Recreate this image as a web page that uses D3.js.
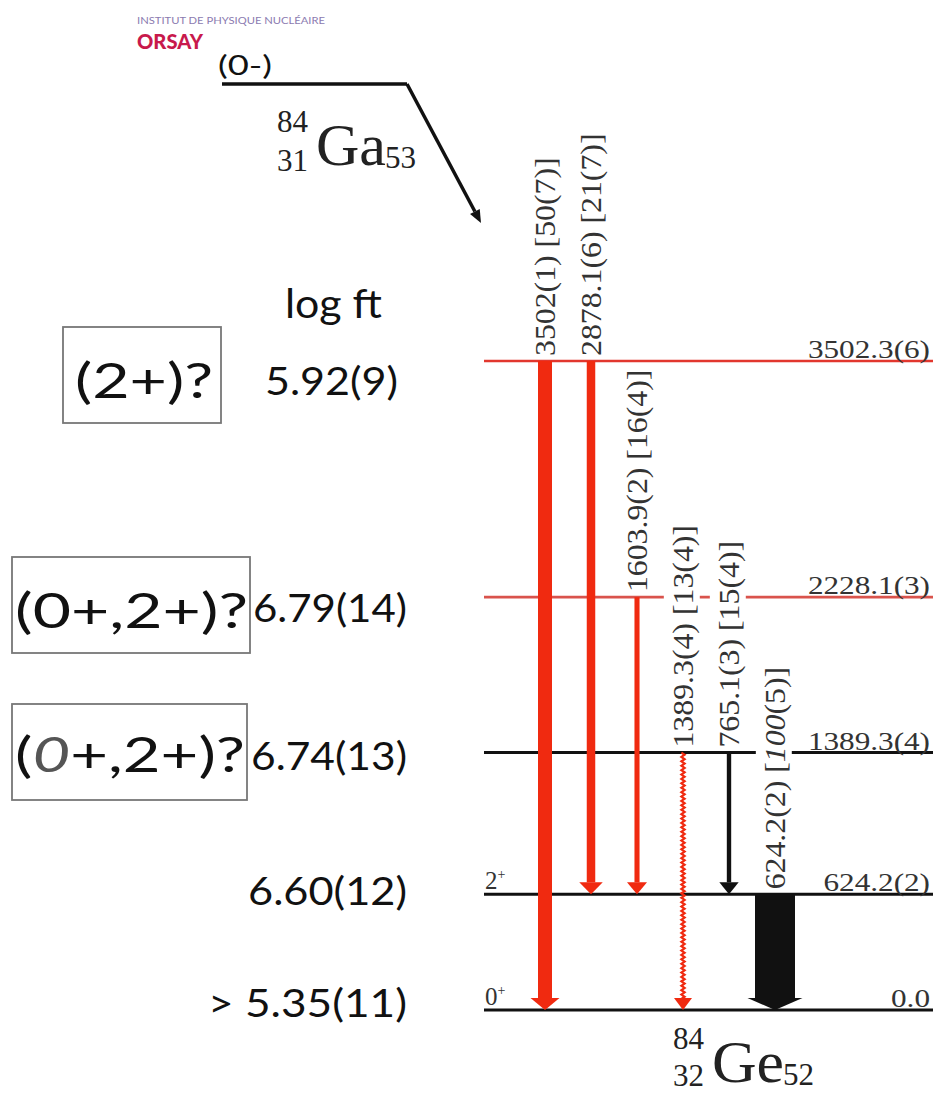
<!DOCTYPE html>
<html><head><meta charset="utf-8">
<script src="https://cdn.jsdelivr.net/npm/d3@7"></script>
<style>body{margin:0;background:#fff} svg{display:block}</style>
</head><body>
<svg id="c" width="937" height="1093"></svg>
<script>
// ---------- data ----------
const levelEnergies = [0, 624.2, 1389.3, 2228.1, 3502.3];
const levelLabels   = ["0.0", "624.2(2)", "1389.3(4)", "2228.1(3)", "3502.3(6)"];
const levelNew      = [false, false, false, true, true];
const spinEnergies  = [0, 624.2];
const spinValues    = ["0", "2"];
const gammaLabels   = ["3502(1)", "2878.1(6)", "1603.9(2)", "1389.3(4)", "765.1(3)", "624.2(2)"];
const gammaIntLabels= ["50(7)", "21(7)", "16(4)", "13(4)", "15(4)", "100(5)"];
const gammaIntensity= [50, 21, 16, 13, 15, 100];
const gammaFrom     = [3502.3, 3502.3, 2228.1, 1389.3, 1389.3, 624.2];
const gammaTo       = [0, 624.2, 624.2, 0, 624.2, 0];
const gammaNew      = [true, true, true, true, false, false];
const gammaTentative= [false, false, false, true, false, false];
const logftHeader   = "log ft";
const logftValues   = ["5.92(9)", "6.79(14)", "6.74(13)", "6.60(12)", "> 5.35(11)"];
const spinGuesses   = ["(2+)?", "(0+,2+)?", "(0+,2+)?"];
const parentSpin    = "(0-)";

// ---------- layout ----------
const svg = d3.select("#c");
const y = d3.scaleLinear().domain([0, 3502.3]).range([1010, 361]);
const xg = d3.scalePoint().domain(gammaLabels).range([545, 775]);
const wScale = d3.scaleLinear().domain([0, 13, 21, 50, 100]).range([0, 3, 8.5, 14, 40]);
const X0 = 484, X1 = 933;
const RED = "#f02a10", RED_L1 = "#e2372e", RED_L2 = "#d9534c";
const SERIF = "'Liberation Serif','Times New Roman',serif";
const SANS = "Lato, 'Open Sans', sans-serif";

// logo
svg.append("text").attr("x", 137).attr("y", 24).attr("font-family", SANS).attr("font-size", 10)
  .attr("fill", "#8b7bb0").attr("textLength", 188).attr("lengthAdjust", "spacingAndGlyphs")
  .text("INSTITUT DE PHYSIQUE NUCLÉAIRE");
svg.append("text").attr("x", 137).attr("y", 49).attr("font-family", SANS).attr("font-size", 21)
  .attr("font-weight", 900).attr("fill", "#c8194c").attr("textLength", 66).attr("lengthAdjust", "spacingAndGlyphs")
  .text("ORSAY");

// parent level
svg.append("line").attr("x1", 222).attr("x2", 407).attr("y1", 84).attr("y2", 84)
  .attr("stroke", "#111").attr("stroke-width", 3.5);
svg.append("text").attr("x", 218).attr("y", 75).attr("font-family", SANS).attr("font-size", 26)
  .attr("fill", "#111").attr("textLength", 54).attr("lengthAdjust", "spacingAndGlyphs").text(parentSpin);
// beta decay arrow
(function(){
  const x1 = 407, y1 = 84, x2 = 481, y2 = 223;
  const a = Math.atan2(y2 - y1, x2 - x1), hl = 13, hw = 5.5;
  const bx = x2 - hl * Math.cos(a), by = y2 - hl * Math.sin(a);
  svg.append("line").attr("x1", x1).attr("y1", y1).attr("x2", bx).attr("y2", by)
    .attr("stroke", "#111").attr("stroke-width", 3.5);
  svg.append("path").attr("fill", "#111").attr("d",
    `M${x2},${y2}L${bx - hw*Math.sin(a)},${by + hw*Math.cos(a)}L${bx + hw*Math.sin(a)},${by - hw*Math.cos(a)}Z`);
})();

// nuclide labels
function nuclide(x, base, A, Z, sym, N, sx, zOff) {
  const g = svg.append("g").attr("font-family", SERIF).attr("fill", "#222");
  g.append("text").attr("x", x).attr("y", base - 33).attr("font-size", 31).text(A);
  g.append("text").attr("x", x).attr("y", base + zOff).attr("font-size", 31).text(Z);
  g.append("text").attr("transform", `translate(${x + 39},${base}) scale(${sx},1)`).attr("font-size", 60).text(sym);
  g.append("text").attr("x", x + 39 + 69 * sx).attr("y", base + 3).attr("font-size", 31).text(N);
}
nuclide(277, 165, "84", "31", "Ga", "53", 1, 6);
nuclide(673, 1082, "84", "32", "Ge", "52", 1.03, 4);

// level lines
svg.selectAll("line.level").data(levelEnergies).join("line").attr("class", "level")
  .attr("x1", X0).attr("x2", X1).attr("y1", d => y(d)).attr("y2", d => y(d))
  .attr("stroke", (d, i) => levelNew[i] ? (i === 4 ? RED_L1 : RED_L2) : "#111")
  .attr("stroke-width", (d, i) => levelNew[i] ? 2.6 : 3);

// gamma labels (with white background masking level lines)
const gl = svg.selectAll("g.glab").data(gammaLabels).join("g").attr("class", "glab")
  .attr("transform", (d, i) => `translate(${xg(d) + 10},${y(gammaFrom[i]) - 5}) rotate(-90) scale(1.06,1)`);
gl.each(function(d, i) {
  const g = d3.select(this);
  const rect = g.append("rect").attr("fill", "#fff");
  const t = g.append("text").attr("font-family", SERIF).attr("font-size", 30).attr("fill", "#333");
  t.append("tspan").text(d + " [");
  if (i === 5) {
    t.append("tspan").attr("font-style", "italic").text("100");
    t.append("tspan").text("(5)]");
  } else {
    t.append("tspan").text(gammaIntLabels[i] + "]");
  }
  const bb = t.node().getBBox();
  rect.attr("x", bb.x - 1).attr("y", bb.y - 2).attr("width", bb.width + 2).attr("height", bb.height + 2);
});

// gamma arrows
const headH = 12;
gammaLabels.forEach((d, i) => {
  const cx = xg(d), w = wScale(gammaIntensity[i]), hw = (w + 15) / 2;
  const yt = y(gammaFrom[i]), yb = y(gammaTo[i]);
  const col = gammaNew[i] ? RED : "#111";
  if (gammaTentative[i]) {
    const pts = d3.range(yt, yb - headH + 1, 2.2).map((v, k) => [cx + (k % 2 ? 1.6 : -1.6), v]);
    svg.append("path").attr("d", d3.line()(pts)).attr("fill", "none").attr("stroke", col).attr("stroke-width", 2.2);
  } else {
    svg.append("rect").attr("x", cx - w / 2).attr("width", w).attr("y", yt).attr("height", yb - headH - yt).attr("fill", col);
  }
  svg.append("path").attr("fill", col)
    .attr("d", `M${cx - hw},${yb - headH}L${cx + hw},${yb - headH}L${cx},${yb}Z`);
});

// level energy labels
svg.selectAll("text.elab").data(levelLabels).join("text").attr("class", "elab")
  .attr("transform", (d, i) => `translate(930,${y(levelEnergies[i]) - 3}) scale(1.2,1)`)
  .attr("text-anchor", "end").attr("font-family", SERIF).attr("font-size", 26).attr("fill", "#333").text(d => d);

// spin labels
spinEnergies.forEach((e, i) => {
  const t = svg.append("text").attr("x", 485).attr("y", y(e) - 5).attr("font-family", SERIF).attr("font-size", 25).attr("fill", "#333");
  t.append("tspan").text(spinValues[i]);
  t.append("tspan").attr("font-size", 14).attr("dy", -10).text("+");
});

// left panel: log ft
svg.append("text").attr("x", 285).attr("y", 318).attr("font-family", SANS).attr("font-size", 40)
  .attr("fill", "#111").attr("textLength", 97).attr("lengthAdjust", "spacingAndGlyphs").text(logftHeader);
const logftBase = [395, 622, 770, 905, 1017];
const logftStart = [265, 253, 251, 248, 208];
const logftEnd = [398, 407, 407, 407, 407];
svg.selectAll("text.logft").data(logftValues).join("text").attr("class", "logft")
  .attr("x", (d, i) => logftStart[i]).attr("y", (d, i) => logftBase[i])
  .attr("font-family", SANS).attr("font-size", 38).attr("fill", "#111")
  .attr("textLength", (d, i) => logftEnd[i] - logftStart[i]).attr("lengthAdjust", "spacingAndGlyphs")
  .text(d => d);

// boxed spin guesses
const boxes = [[63, 327, 158, 96], [12, 557, 238, 96], [12, 704, 235, 96]];
const boxText = [[75, 398, 138], [15, 628, 233], [15, 772, 230]];
spinGuesses.forEach((s, i) => {
  const [bx, by, bw, bh] = boxes[i];
  svg.append("rect").attr("x", bx).attr("y", by).attr("width", bw).attr("height", bh)
    .attr("fill", "none").attr("stroke", "#777").attr("stroke-width", 1.8);
  const t = svg.append("text").attr("x", boxText[i][0]).attr("y", boxText[i][1])
    .attr("font-family", SANS).attr("font-size", 48).attr("fill", "#111")
    .attr("textLength", boxText[i][2]).attr("lengthAdjust", "spacingAndGlyphs");
  if (i === 2) {
    t.append("tspan").text("(");
    t.append("tspan").attr("font-style", "italic").attr("fill", "#555").text("0");
    t.append("tspan").text(s.slice(2));
  } else t.text(s);
});
</script>
</body></html>
